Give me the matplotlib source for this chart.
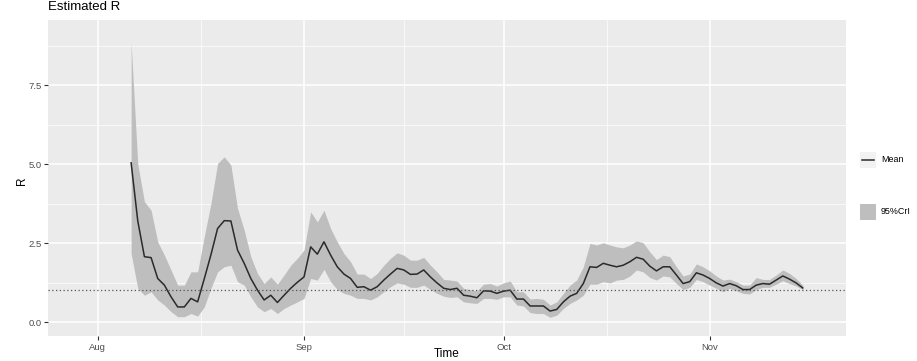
import numpy as np
import matplotlib
matplotlib.use("Agg")
import matplotlib.pyplot as plt
import matplotlib.dates as mdates
from matplotlib.ticker import MultipleLocator, FixedLocator
from matplotlib.patches import Rectangle
from matplotlib.lines import Line2D

plt.rcParams['font.family'] = ['Liberation Sans', 'DejaVu Sans']

# Daily estimates, 6 Aug -> 15 Nov
start_date = '2020-08-06'
n_days = 102

r_mean = [
    5.04, 3.20, 2.07, 2.04, 1.38, 1.17, 0.80, 0.48, 0.48, 0.75, 0.64, 1.37, 2.13,
    2.96, 3.21, 3.20, 2.28, 1.86, 1.38, 1.01, 0.70, 0.85, 0.62, 0.85, 1.07, 1.26,
    1.43, 2.38, 2.15, 2.54, 2.12, 1.75, 1.52, 1.38, 1.10, 1.12, 1.01, 1.12, 1.33,
    1.52, 1.70, 1.65, 1.51, 1.52, 1.65, 1.43, 1.24, 1.07, 1.03, 1.07, 0.85, 0.82,
    0.77, 0.99, 0.98, 0.91,
    0.98, 1.01, 0.73, 0.73, 0.51, 0.51, 0.51, 0.35, 0.40, 0.64, 0.82, 0.91, 1.22,
    1.75, 1.73, 1.86, 1.80, 1.75, 1.80, 1.91, 2.05, 1.99, 1.77, 1.62, 1.75, 1.75,
    1.49, 1.22, 1.28, 1.56, 1.49,
    1.38, 1.24, 1.14, 1.22, 1.15, 1.03, 1.03, 1.17, 1.22, 1.20, 1.33, 1.46, 1.36,
    1.24, 1.08,
]
r_upper = [
    8.84, 5.00, 3.81, 3.54, 2.54, 2.12, 1.65, 1.17, 1.17, 1.59, 1.59, 2.71, 3.75,
    5.02, 5.23, 4.97, 3.60, 2.91, 2.07, 1.54, 1.22, 1.43, 1.20, 1.49, 1.80, 2.02,
    2.28, 3.49, 3.17, 3.54, 2.96, 2.54, 2.17, 1.91, 1.52, 1.52, 1.38, 1.54, 1.80,
    2.02, 2.19, 2.12, 1.96, 1.96, 2.05, 1.80, 1.59, 1.35, 1.33, 1.30, 1.07, 1.03,
    0.99, 1.20, 1.22, 1.14,
    1.24, 1.30, 0.96, 0.96, 0.73, 0.75, 0.72, 0.54, 0.64, 0.91, 1.17, 1.33, 1.75,
    2.49, 2.44, 2.51, 2.44, 2.38, 2.35, 2.44, 2.57, 2.51, 2.22, 1.98, 2.12, 2.07,
    1.75, 1.46, 1.52, 1.84, 1.75,
    1.62, 1.46, 1.33, 1.36, 1.28, 1.17, 1.17, 1.41, 1.35, 1.35, 1.49, 1.65, 1.54,
    1.38, 1.17,
]
r_lower = [
    2.17, 1.07, 0.85, 0.96, 0.70, 0.54, 0.33, 0.17, 0.17, 0.27, 0.19, 0.48, 1.07,
    1.59, 1.75, 1.80, 1.28, 1.17, 0.80, 0.48, 0.33, 0.43, 0.27, 0.43, 0.54, 0.64,
    0.75, 1.38, 1.33, 1.67, 1.28, 1.03, 0.91, 0.85, 0.75, 0.75, 0.70, 0.80, 0.96,
    1.12, 1.24, 1.20, 1.10, 1.10, 1.17, 1.03, 0.91, 0.82, 0.78, 0.80, 0.64, 0.61,
    0.59, 0.75, 0.75, 0.72,
    0.80, 0.80, 0.54, 0.51, 0.30, 0.27, 0.27, 0.15, 0.22, 0.43, 0.59, 0.70, 0.85,
    1.20, 1.20, 1.28, 1.24, 1.33, 1.35, 1.46, 1.65, 1.59, 1.41, 1.33, 1.46, 1.43,
    1.22, 1.03, 1.10, 1.35, 1.28,
    1.17, 1.07, 0.96, 1.07, 0.99, 0.91, 0.89, 1.03, 1.10, 1.10, 1.20, 1.31, 1.22,
    1.14, 1.03,
]
threshold = 1.0
legend_labels = ['Mean', '95%CrI']

dates = np.datetime64(start_date) + np.arange(n_days)

W, H = 917, 361
fig = plt.figure(figsize=(W / 100, H / 100), dpi=100)
fig.patch.set_facecolor('white')
ax = fig.add_axes([48 / W, 1 - 336 / H, (846 - 48) / W, (336 - 20) / H])
ax.set_facecolor('#EBEBEB')
for s in ax.spines.values():
    s.set_visible(False)

band_col = '#BEBEBE'
ax.fill_between(dates, r_lower, r_upper, color=band_col, lw=0, zorder=2)
ax.plot(dates, r_mean, color='#2A2A2A', lw=1.1, zorder=3)
ax.axhline(threshold, color='#555555', lw=0.9, ls=(0, (1, 2)), zorder=4)

ax.set_xlim(np.datetime64('2020-07-24T12'), np.datetime64('2020-11-21T12'))
ax.set_ylim(-0.44, 9.56)

month_starts = np.arange(np.datetime64('2020-07'), np.datetime64('2020-12')).astype('datetime64[D]')
mnum = mdates.date2num(month_starts)
ax.xaxis.set_major_locator(mdates.MonthLocator())
ax.xaxis.set_major_formatter(mdates.DateFormatter('%b'))
ax.xaxis.set_minor_locator(FixedLocator((mnum[:-1] + mnum[1:]) / 2))
ax.yaxis.set_major_locator(MultipleLocator(2.5))
ax.yaxis.set_minor_locator(MultipleLocator(1.25))
ax.yaxis.set_major_formatter(matplotlib.ticker.FormatStrFormatter('%.1f'))

ax.grid(which='major', color='white', lw=1.1, zorder=0)
ax.grid(which='minor', color='white', lw=0.5, zorder=0)
ax.set_axisbelow(True)
ax.tick_params(which='major', length=2.8, width=0.8, color='#333333',
               labelsize=6.8, labelcolor='#4D4D4D', pad=2)
ax.tick_params(which='minor', length=0)

# titles and axis labels
fig.text(48 / W, 1 - 7 / H, 'Estimated R', fontsize=9.5, va='center', ha='left')
fig.text(447 / W, 1 - 354 / H, 'Time', fontsize=8.5, va='center', ha='center')
fig.text(22 / W, 1 - 181 / H, 'R', fontsize=8.5, va='center', ha='center', rotation=90)

# legend drawn in figure space
lax = fig.add_axes([0, 0, 1, 1], facecolor='none')
lax.set_xlim(0, W)
lax.set_ylim(H, 0)
lax.axis('off')
lax.add_patch(Rectangle((860, 152), 16, 16, color='#F2F2F2', lw=0))
lax.add_line(Line2D([862, 874], [160, 160], color='#2A2A2A', lw=1.1))
lax.add_patch(Rectangle((860, 204), 16, 16, color=band_col, lw=0))
lax.text(881, 160, legend_labels[0], fontsize=6.4, va='center', ha='left')
lax.text(881, 212, legend_labels[1], fontsize=6.4, va='center', ha='left')

fig.savefig('out.png', dpi=100)
